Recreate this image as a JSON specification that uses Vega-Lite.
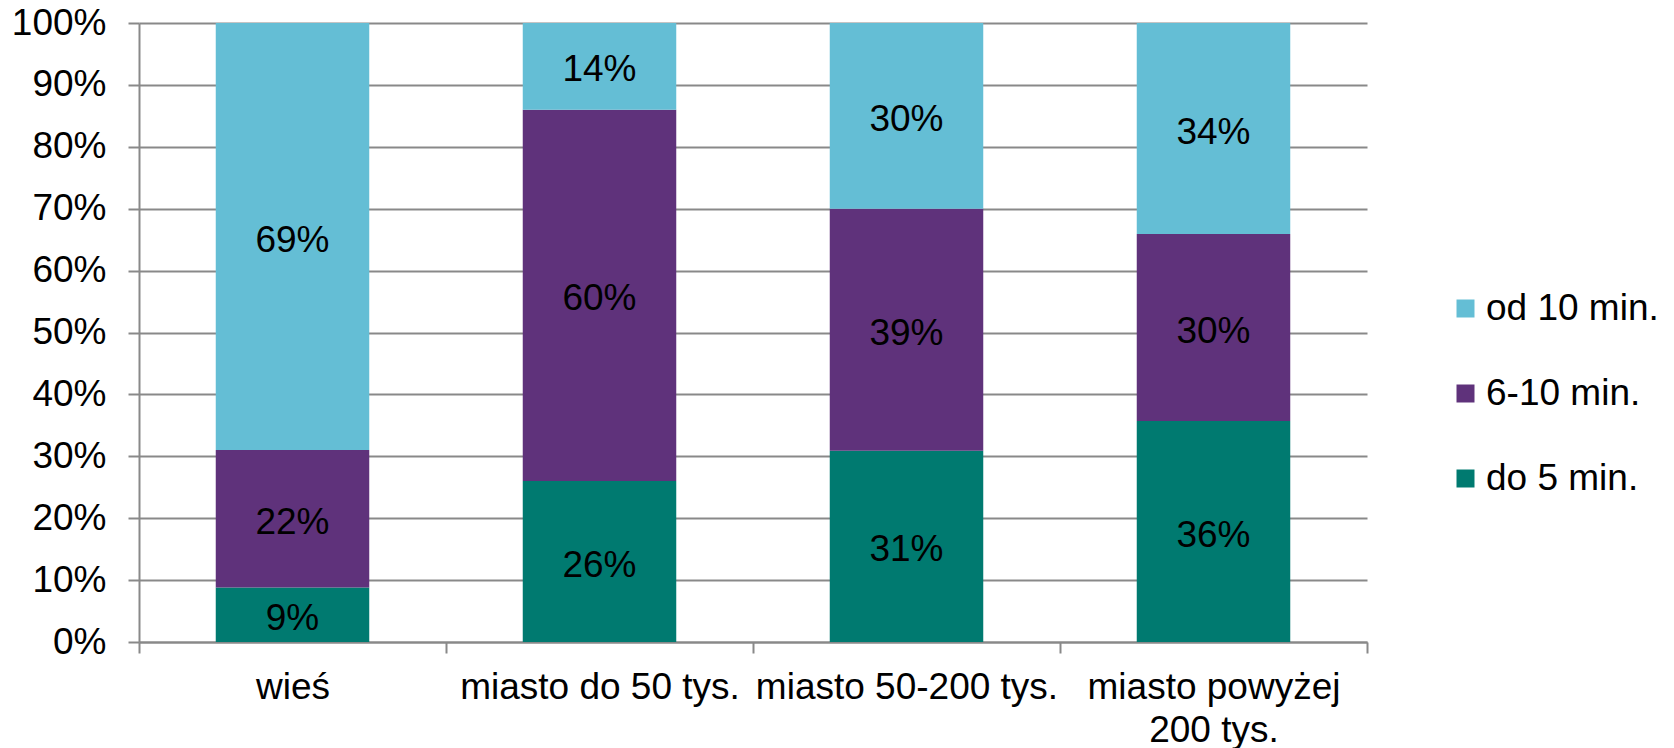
{
  "$schema": "https://vega.github.io/schema/vega-lite/v6.json",
  "width": 1228,
  "height": 619,
  "autosize": {"type": "none"},
  "padding": {"left": 139, "top": 23, "right": 307, "bottom": 106},
  "background": "white",
  "config": {
    "font": "Liberation Sans",
    "view": {"stroke": null},
    "axis": {"labelFont": "Liberation Sans", "labelColor": "#000000", "labelFontSize": 37}
  },
  "data": {
    "values": [
      {"place": "wieś", "time": "do 5 min.", "k": 1, "share": 0.088},
      {"place": "wieś", "time": "6-10 min.", "k": 2, "share": 0.222},
      {"place": "wieś", "time": "od 10 min.", "k": 3, "share": 0.690},
      {"place": "miasto do 50 tys.", "time": "do 5 min.", "k": 1, "share": 0.260},
      {"place": "miasto do 50 tys.", "time": "6-10 min.", "k": 2, "share": 0.600},
      {"place": "miasto do 50 tys.", "time": "od 10 min.", "k": 3, "share": 0.140},
      {"place": "miasto 50-200 tys.", "time": "do 5 min.", "k": 1, "share": 0.309},
      {"place": "miasto 50-200 tys.", "time": "6-10 min.", "k": 2, "share": 0.391},
      {"place": "miasto 50-200 tys.", "time": "od 10 min.", "k": 3, "share": 0.300},
      {"place": "miasto powyżej 200 tys.", "time": "do 5 min.", "k": 1, "share": 0.357},
      {"place": "miasto powyżej 200 tys.", "time": "6-10 min.", "k": 2, "share": 0.302},
      {"place": "miasto powyżej 200 tys.", "time": "od 10 min.", "k": 3, "share": 0.341}
    ]
  },
  "transform": [
    {"stack": "share", "groupby": ["place"], "sort": [{"field": "k", "order": "ascending"}], "as": ["y0", "y1"]},
    {"calculate": "(datum.y0 + datum.y1) / 2", "as": "ymid"}
  ],
  "encoding": {
    "x": {
      "field": "place",
      "type": "nominal",
      "sort": ["wieś", "miasto do 50 tys.", "miasto 50-200 tys.", "miasto powyżej 200 tys."],
      "scale": {"paddingInner": 0, "paddingOuter": 0},
      "axis": {
        "title": null,
        "labelAngle": 0,
        "tickBand": "extent",
        "tickSize": 11,
        "tickColor": "#898989",
        "tickWidth": 2,
        "domainColor": "#898989",
        "domainWidth": 2,
        "labelPadding": 16,
        "labelLimit": 0,
        "labelLineHeight": 43,
        "labelExpr": "datum.label == 'miasto powyżej 200 tys.' ? ['miasto powyżej', '200 tys.'] : datum.label"
      }
    }
  },
  "layer": [
    {
      "mark": {"type": "bar", "width": {"band": 0.5}},
      "encoding": {
        "y": {
          "field": "y0",
          "type": "quantitative",
          "scale": {"domain": [0, 1], "nice": false},
          "axis": {
            "title": null,
            "values": [0, 0.1, 0.2, 0.3, 0.4, 0.5, 0.6, 0.7, 0.8, 0.9, 1],
            "format": ".0%",
            "grid": true,
            "gridColor": "#898989",
            "gridWidth": 2,
            "tickSize": 11,
            "tickColor": "#898989",
            "tickWidth": 2,
            "domainColor": "#898989",
            "domainWidth": 2,
            "labelPadding": 22
          }
        },
        "y2": {"field": "y1"},
        "color": {
          "field": "time",
          "type": "nominal",
          "scale": {
            "domain": ["od 10 min.", "6-10 min.", "do 5 min."],
            "range": ["#64BED5", "#5F327B", "#007A70"]
          },
          "legend": {
            "title": null,
            "orient": "none",
            "legendX": 1308,
            "legendY": 267,
            "symbolType": "square",
            "symbolSize": 324,
            "symbolStrokeWidth": 0,
            "labelFontSize": 37,
            "labelFont": "Liberation Sans",
            "labelColor": "#000000",
            "labelLimit": 400,
            "labelOffset": 2,
            "rowPadding": 47,
            "padding": 0
          }
        }
      }
    },
    {
      "mark": {"type": "text", "fontSize": 37, "font": "Liberation Sans", "color": "#000000", "baseline": "middle", "align": "center", "dy": 4},
      "encoding": {
        "y": {"field": "ymid", "type": "quantitative"},
        "text": {"field": "share", "type": "quantitative", "format": ".0%"}
      }
    }
  ]
}
